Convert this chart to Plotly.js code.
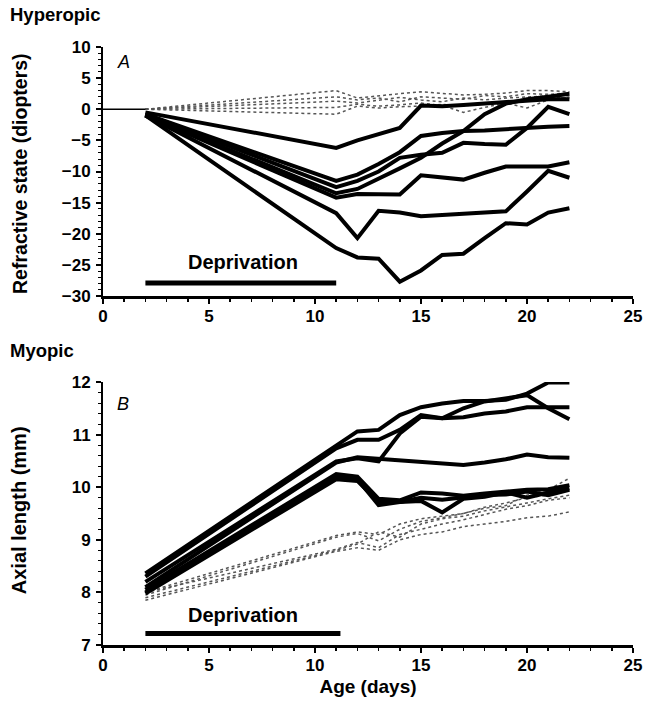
<!DOCTYPE html>
<html>
<head>
<meta charset="utf-8">
<script src="https://cdn.plot.ly/plotly-3.0.1.min.js"></script>
<style>html,body{margin:0;padding:0;background:#fff;}#chart{width:652px;height:709px;}</style>
</head>
<body>
<div id="chart"></div>
<script>
// ---- Data ----
const days = [2, 11, 12, 13, 14, 15, 16, 17, 18, 19, 20, 21, 22];
const baselineDays = [0, 2];
const baselineRefraction = [0, 0];
const deprivationPeriod = [2, 11];

// Panel A: refractive state (diopters), deprived eyes (solid)
const refDep1 = [-0.5, -6.2, -5.0, -4.0, -3.0, 0.6, 0.5, 0.7, 0.9, 1.2, 1.4, 1.6, 1.6];
const refDep2 = [-0.8, -11.5, -10.5, -8.8, -6.9, -4.3, -3.8, -3.5, -3.4, -3.2, -2.9, -2.8, -2.7];
const refDep3 = [-0.8, -12.5, -11.5, -10.0, -7.8, -7.3, -7.0, -5.4, -5.6, -5.7, -3.0, 0.4, -0.8];
const refDep4 = [-1.0, -13.5, -12.8, -11.2, -9.5, -7.8, -5.5, -3.5, -0.8, 0.9, 1.6, 2.0, 2.5];
const refDep5 = [-1.0, -14.2, -13.6, -13.6, -13.7, -10.6, -10.9, -11.3, -10.2, -9.2, -9.2, -9.2, -8.5];
const refDep6 = [-1.0, -16.7, -20.7, -16.3, -16.6, -17.2, -17.0, -16.8, -16.6, -16.4, -13.2, -9.9, -11.0];
const refDep7 = [-1.0, -22.3, -23.8, -24.0, -27.7, -25.9, -23.4, -23.2, -20.7, -18.3, -18.5, -16.6, -15.9];
// Panel A: control eyes (dotted)
const refCtl1 = [0, 3.0, 1.8, 2.2, 2.5, 2.8, 2.5, 2.3, 2.4, 2.6, 3.0, 3.0, 2.8];
const refCtl2 = [0, 2.0, 1.5, 1.8, 1.2, 2.0, 1.8, 1.6, 2.2, 2.0, 2.5, 2.4, 2.6];
const refCtl3 = [0, 1.3, 1.0, 1.5, 1.9, 1.5, 1.2, 1.8, 1.5, 1.8, 2.0, 2.2, 2.3];
const refCtl4 = [0, 0.3, 0.8, 0.5, 0.7, 1.0, 0.6, -0.5, 0.3, 1.0, 0.2, 1.5, 2.0];
const refCtl5 = [0, -0.8, 0.5, 0.2, 0.4, 0.5, 0.8, 0.5, 1.0, 1.2, 1.5, 2.0, 1.8];

// Panel B: axial length (mm), deprived eyes (solid)
const axDep1 = [8.36, 10.80, 11.06, 11.09, 11.37, 11.52, 11.59, 11.64, 11.64, 11.66, 11.78, 11.99, 11.99];
const axDep2 = [8.30, 10.74, 10.90, 10.90, 11.09, 11.37, 11.31, 11.50, 11.63, 11.69, 11.75, 11.50, 11.29];
const axDep3 = [8.20, 10.49, 10.55, 10.49, 11.02, 11.34, 11.31, 11.33, 11.40, 11.44, 11.52, 11.52, 11.52];
const axDep4 = [8.10, 10.47, 10.57, 10.54, 10.52, 10.49, 10.45, 10.42, 10.47, 10.53, 10.62, 10.57, 10.56];
const axDep5 = [8.05, 10.25, 10.20, 9.78, 9.75, 9.90, 9.88, 9.84, 9.88, 9.92, 9.95, 9.96, 10.04];
const axDep6 = [8.00, 10.20, 10.15, 9.66, 9.72, 9.74, 9.52, 9.78, 9.82, 9.90, 9.80, 9.90, 9.98];
const axDep7 = [7.98, 10.15, 10.12, 9.72, 9.72, 9.80, 9.76, 9.80, 9.85, 9.86, 9.92, 9.85, 9.95];
// Panel B: control eyes (dotted)
const axCtl1 = [8.00, 9.08, 9.15, 9.10, 9.30, 9.40, 9.45, 9.50, 9.60, 9.65, 9.85, 9.95, 10.17];
const axCtl2 = [7.95, 9.05, 9.12, 8.98, 9.20, 9.35, 9.42, 9.50, 9.62, 9.70, 9.80, 9.85, 10.00];
const axCtl3 = [7.90, 8.80, 8.92, 9.15, 9.05, 9.30, 9.40, 9.45, 9.55, 9.62, 9.70, 9.78, 9.85];
const axCtl4 = [7.85, 8.78, 8.85, 8.80, 9.00, 9.10, 9.15, 9.25, 9.30, 9.35, 9.42, 9.45, 9.53];
const axCtl5 = [8.00, 8.82, 8.95, 8.85, 9.10, 9.20, 9.30, 9.38, 9.48, 9.58, 9.65, 9.75, 9.80];

const xTicks = [0, 5, 10, 15, 20, 25];

// ---- Traces ----
const solid = {color: '#000', width: 4, shape: 'linear'};
const dotted = {color: '#555', width: 1.5, dash: 'dot'};
const traces = [];
[refCtl1, refCtl2, refCtl3, refCtl4, refCtl5].forEach(v => traces.push({x: days, y: v, xaxis: 'x', yaxis: 'y', mode: 'lines', line: dotted}));
traces.push({x: baselineDays, y: baselineRefraction, xaxis: 'x', yaxis: 'y', mode: 'lines', line: {color: '#000', width: 1.5}});
[refDep1, refDep2, refDep3, refDep4, refDep5, refDep6, refDep7].forEach(v => traces.push({x: days, y: v, xaxis: 'x', yaxis: 'y', mode: 'lines', line: solid}));
[axCtl1, axCtl2, axCtl3, axCtl4, axCtl5].forEach(v => traces.push({x: days, y: v, xaxis: 'x2', yaxis: 'y2', mode: 'lines', line: dotted}));
[axDep1, axDep2, axDep3, axDep4, axDep5, axDep6, axDep7].forEach(v => traces.push({x: days, y: v, xaxis: 'x2', yaxis: 'y2', mode: 'lines', line: solid}));

const FAM = 'Liberation Sans, Arial, sans-serif';
const tickFont = {family: FAM, size: 17, color: '#000', weight: 'bold'};
const labelFont = {family: FAM, size: 19, color: '#000', weight: 'bold'};

function xAxis(anchor, title) {
  return {
    anchor: anchor, range: [0, 25], tickvals: xTicks, ticktext: xTicks.map(String),
    ticks: 'outside', ticklen: 5, tickwidth: 2, tickcolor: '#000',
    minor: {ticks: 'outside', dtick: 1, ticklen: 3, tickwidth: 1.5, tickcolor: '#000'},
    showline: true, linecolor: '#000', linewidth: 2.5, showgrid: false, zeroline: false,
    tickfont: tickFont, ticklabelstandoff: -2, fixedrange: true, title: title
  };
}
function yAxis(domain, range, dtick, minorDtick, anchor) {
  return {
    domain: domain, range: range, dtick: dtick, anchor: anchor,
    ticks: 'outside', ticklen: 5, tickwidth: 2, tickcolor: '#000',
    minor: {ticks: 'outside', dtick: minorDtick, ticklen: 3, tickwidth: 1, tickcolor: '#000'},
    showline: true, linecolor: '#000', linewidth: 2, showgrid: false, zeroline: false,
    tickfont: tickFont, ticklabelstandoff: 2
  };
}

const layout = {
  width: 652, height: 709,
  margin: {l: 103, r: 19, t: 47, b: 64},
  paper_bgcolor: '#fff', plot_bgcolor: '#fff',
  showlegend: false,
  xaxis: xAxis('y', {text: ''}),
  xaxis2: xAxis('y2', {text: 'Age (days)', font: labelFont, standoff: 6}),
  yaxis: yAxis([0.5836, 1], [-30, 10], 5, 1, 'x'),
  yaxis2: yAxis([0, 0.4398], [7, 12], 1, 0.2, 'x2'),
  shapes: [
    {type: 'line', xref: 'x', yref: 'y', x0: deprivationPeriod[0], x1: deprivationPeriod[1], y0: -27.9, y1: -27.9, line: {color: '#000', width: 5}},
    {type: 'line', xref: 'x2', yref: 'y2', x0: deprivationPeriod[0], x1: deprivationPeriod[1] + 0.2, y0: 7.22, y1: 7.22, line: {color: '#000', width: 5}}
  ],
  annotations: [
    {xref: 'paper', yref: 'paper', x: -0.179, y: 1.054, xanchor: 'left', yanchor: 'middle', text: 'Hyperopic', showarrow: false, font: {family: FAM, size: 18.5, color: '#000', weight: 'bold'}},
    {xref: 'paper', yref: 'paper', x: -0.179, y: 0.493, xanchor: 'left', yanchor: 'middle', text: 'Myopic', showarrow: false, font: {family: FAM, size: 18.5, color: '#000', weight: 'bold'}},
    {xref: 'paper', yref: 'paper', x: -0.157, y: 0.789, xanchor: 'center', yanchor: 'middle', textangle: -90, text: 'Refractive state (diopters)', showarrow: false, font: {family: FAM, size: 19.5, color: '#000', weight: 'bold'}},
    {xref: 'paper', yref: 'paper', x: -0.157, y: 0.225, xanchor: 'center', yanchor: 'middle', textangle: -90, text: 'Axial length (mm)', showarrow: false, font: {family: FAM, size: 20, color: '#000', weight: 'bold'}},
    {xref: 'x', yref: 'y', x: 0.55, y: 7.6, xanchor: 'left', yanchor: 'middle', text: '<i>A</i>', showarrow: false, font: {family: FAM, size: 18, color: '#000'}},
    {xref: 'x2', yref: 'y2', x: 0.55, y: 11.58, xanchor: 'left', yanchor: 'middle', text: '<i>B</i>', showarrow: false, font: {family: FAM, size: 18, color: '#000'}},
    {xref: 'x', yref: 'y', x: 6.6, y: -24.6, xanchor: 'center', yanchor: 'middle', text: 'Deprivation', showarrow: false, font: {family: FAM, size: 20, color: '#000', weight: 'bold'}},
    {xref: 'x2', yref: 'y2', x: 6.6, y: 7.57, xanchor: 'center', yanchor: 'middle', text: 'Deprivation', showarrow: false, font: {family: FAM, size: 20, color: '#000', weight: 'bold'}}
  ]
};

Plotly.newPlot('chart', traces, layout, {displayModeBar: false, staticPlot: true});
</script>
</body>
</html>
